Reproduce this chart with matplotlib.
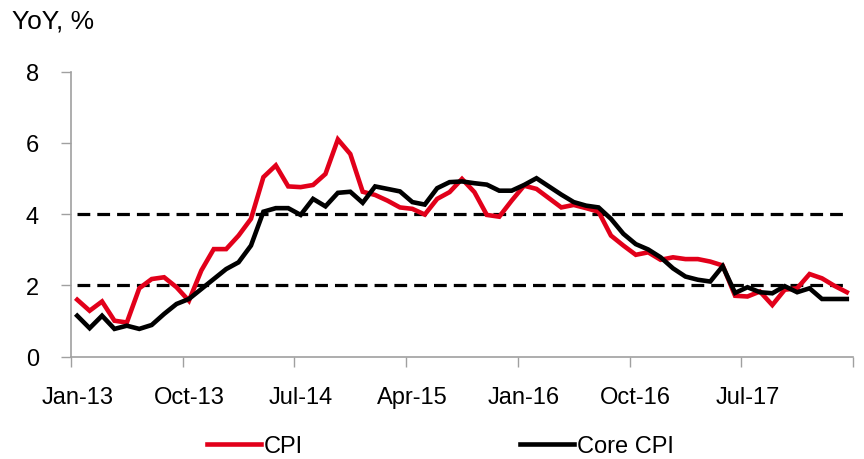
import numpy as np
import pandas as pd
import matplotlib
matplotlib.use("Agg")
import matplotlib.pyplot as plt

plt.rcParams['font.family'] = ['Liberation Sans', 'DejaVu Sans']

# ----------------------
# DATA (monthly, Jan-13 .. Mar-18)
# ----------------------
months = pd.date_range("2013-01-01", "2018-03-01", freq="MS")
cpi = [1.60, 1.29, 1.55, 1.01, 0.96, 1.92, 2.18, 2.23, 1.95, 1.57,
       2.42, 3.02, 3.02, 3.40, 3.87, 5.04, 5.37, 4.78, 4.76, 4.82,
       5.13, 6.10, 5.69, 4.63, 4.54, 4.38, 4.19, 4.15, 3.99, 4.43,
       4.62, 4.99, 4.62, 3.98, 3.93, 4.38, 4.80, 4.71, 4.45, 4.19,
       4.26, 4.17, 4.07, 3.40, 3.12, 2.86, 2.93, 2.72, 2.79, 2.74,
       2.74, 2.67, 2.56, 1.71, 1.69, 1.83, 1.45, 1.88, 1.92, 2.32,
       2.20, 1.99, 1.81]
core_cpi = [1.15, 0.80, 1.15, 0.78, 0.87, 0.78, 0.89, 1.20, 1.48, 1.62,
            1.90, 2.18, 2.46, 2.65, 3.12, 4.07, 4.17, 4.17, 3.98, 4.43,
            4.22, 4.60, 4.63, 4.32, 4.78, 4.71, 4.64, 4.34, 4.27, 4.73,
            4.90, 4.92, 4.87, 4.83, 4.66, 4.66, 4.82, 5.01, 4.78, 4.55,
            4.34, 4.24, 4.19, 3.87, 3.45, 3.16, 3.01, 2.79, 2.48, 2.25,
            2.16, 2.11, 2.54, 1.79, 1.95, 1.81, 1.78, 1.98, 1.81, 1.92,
            1.62, 1.62, 1.62]
upper_band = 4
lower_band = 2
label_step = 9

# ----------------------
# PLOT
# ----------------------
red = '#E2001A'
x = np.arange(len(months))

fig = plt.figure(figsize=(8.64, 4.60), dpi=100)
ax = fig.add_axes([71/864, 1-357.7/460, 782/864, 285/460])

ax.plot(x, [upper_band]*len(x), color='black', lw=2.3, ls=(0, (4, 2.2)))
ax.plot(x, [lower_band]*len(x), color='black', lw=2.3, ls=(0, (4, 2.2)))
ax.plot(x, cpi, color=red, lw=3.3, label='CPI', solid_joinstyle='miter')
ax.plot(x, core_cpi, color='black', lw=3.3, label='Core CPI', solid_joinstyle='miter')

ax.set_xlim(-0.5, len(x) - 0.5)
ax.set_ylim(0, 8)
ax.set_yticks([0, 2, 4, 6, 8])

ax.set_xticks(np.arange(-0.5, len(x), label_step), minor=False)
ax.set_xticklabels([])
ax.set_xticks(x[::label_step], minor=True)
ax.set_xticklabels([m.strftime('%b-%y') for m in months[::label_step]], minor=True)
ax.tick_params(axis='x', which='minor', length=0, pad=21, labelsize=17)
ax.tick_params(axis='x', which='major', length=7, width=1, color='#A0A0A0', direction='out')
ax.tick_params(axis='y', length=7, width=1, color='#A0A0A0', direction='out', labelsize=17, pad=16)

for s in ['top', 'right']:
    ax.spines[s].set_visible(False)
for s in ['left', 'bottom']:
    ax.spines[s].set_color('#A0A0A0')
    ax.spines[s].set_linewidth(1.2)

fig.text(12/864, 1-21/460, 'YoY, %', fontsize=19, va='center', ha='left')

leg = fig.legend(loc='center left', bbox_to_anchor=(207/864, 1-447/460), ncol=2, frameon=False,
                 fontsize=17, handlelength=2.3, handletextpad=0.1, columnspacing=9.2,
                 borderpad=0, borderaxespad=0)

plt.savefig('out.png', dpi=100)
